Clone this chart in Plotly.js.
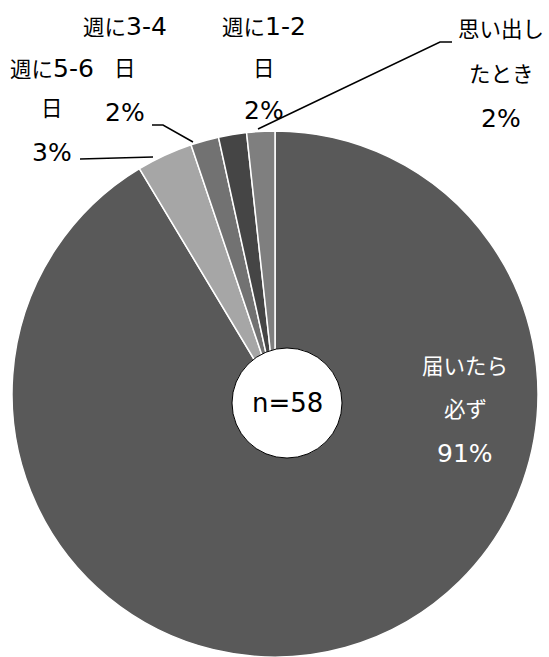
<!DOCTYPE html>
<html>
<head>
<meta charset="utf-8">
<script src="https://cdn.plot.ly/plotly-3.0.1.min.js"></script>
<style>
  html, body { margin: 0; padding: 0; background: #fff; }
  #chart { width: 549px; height: 657px; }
</style>
</head>
<body>
<div id="chart"></div>
<script>
// ---- data ----
const categories = ["届いたら必ず", "週に5-6日", "週に3-4日", "週に1-2日", "思い出したとき"];
const counts = [53, 2, 1, 1, 1];
const labelLines = [["届いたら", "必ず"], ["週に5-6", "日"], ["週に3-4", "日"], ["週に1-2", "日"], ["思い出し", "たとき"]];
const sampleLabel = "n=";

// ---- styles / layout helpers ----
const W = 549, H = 657;
const px = x => x / W;
const py = y => 1 - y / H;
const sliceColors = ["#595959", "#a6a6a6", "#727272", "#454545", "#7f7f7f"];
const FONT = "DejaVu Sans, Noto Sans CJK JP, sans-serif";
const CJK_SIZE = 21.5, LATIN_SIZE = 25;
const fmt = t => t.replace(/([\x20-\x7E]+)/g, '<span style="font-size:' + LATIN_SIZE + 'px">$1</span>');
const labelPlace = [
  { x: 465, ys: [366, 409, 453], color: "#ffffff" },
  { x: 52,  ys: [68, 108, 152],  color: "#000000" },
  { x: 125, ys: [26, 68, 112],   color: "#000000" },
  { x: 264, ys: [26, 68, 110],   color: "#000000" },
  { x: 501, ys: [29, 75, 118],   color: "#000000" }
];
const leaders = [
  null,
  [[80, 159], [153, 157]],
  [[152, 125], [163, 125], [193, 142]],
  null,
  [[258, 129], [440, 42], [452, 42]]
];

const total = counts.reduce((a, b) => a + b, 0);
const pcts = counts.map(v => Math.round(v / total * 100) + "%");

const annotations = [];
categories.forEach((c, i) => {
  const lines = labelLines[i].concat([pcts[i]]);
  const p = labelPlace[i];
  lines.forEach((t, k) => {
    annotations.push({
      xref: "paper", yref: "paper",
      x: px(p.x), y: py(p.ys[k]),
      xanchor: "center", yanchor: "middle",
      text: fmt(t), showarrow: false,
      font: { family: FONT, size: CJK_SIZE, color: p.color }
    });
  });
});
annotations.push({
  xref: "paper", yref: "paper",
  x: px(287), y: py(403),
  xanchor: "center", yanchor: "middle",
  text: sampleLabel + total, showarrow: false,
  font: { family: FONT, size: 26, color: "#000000" }
});

const shapes = [{
  type: "circle", xref: "paper", yref: "paper",
  x0: px(232), x1: px(342), y0: py(458), y1: py(348),
  fillcolor: "#ffffff", line: { color: "#000000", width: 1 }, layer: "above"
}];
leaders.forEach(l => {
  if (!l) return;
  const path = l.map((pt, k) => (k === 0 ? "M" : "L") + px(pt[0]) + "," + py(pt[1])).join(" ");
  shapes.push({
    type: "path", xref: "paper", yref: "paper", path: path,
    line: { color: "#000000", width: 1.5 }
  });
});

const trace = {
  type: "pie",
  labels: categories,
  values: counts,
  sort: false,
  direction: "clockwise",
  rotation: 0,
  textinfo: "none",
  hoverinfo: "label+percent",
  marker: { colors: sliceColors, line: { color: "#ffffff", width: 1.5 } },
  domain: { x: [px(12), px(538)], y: [0, py(131)] },
  showlegend: false
};

const layout = {
  width: W, height: H,
  margin: { l: 0, r: 0, t: 0, b: 0 },
  paper_bgcolor: "#ffffff",
  showlegend: false,
  annotations: annotations,
  shapes: shapes
};

Plotly.newPlot("chart", [trace], layout, { displayModeBar: false, staticPlot: true });
</script>
</body>
</html>
